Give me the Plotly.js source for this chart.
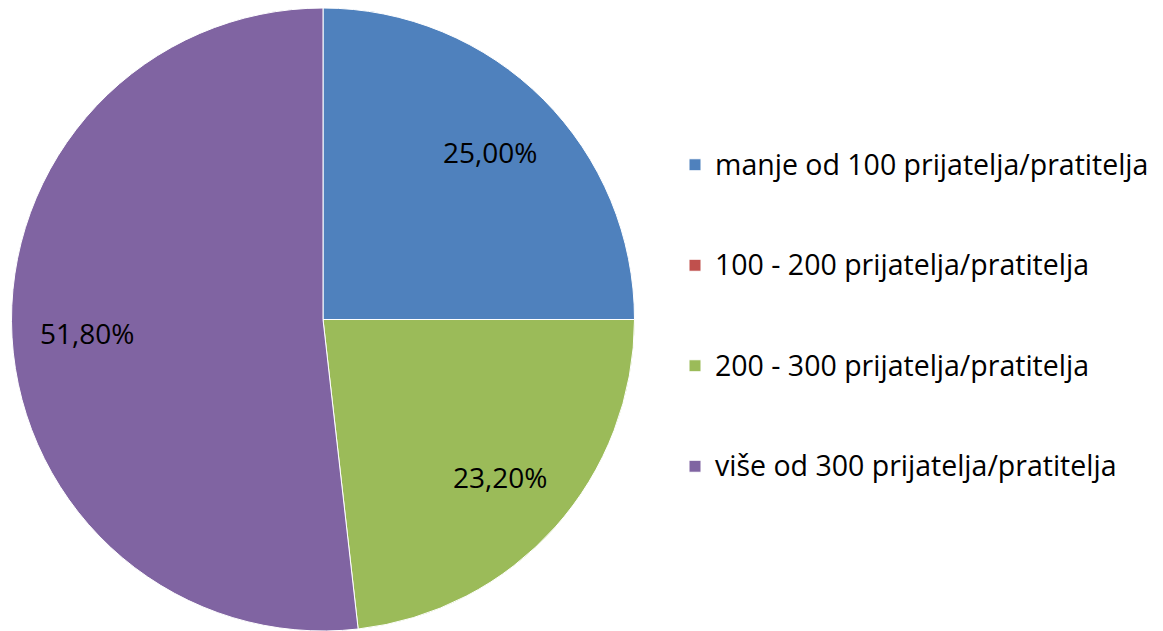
<!DOCTYPE html>
<html>
<head>
<meta charset="utf-8">
<script src="https://cdn.plot.ly/plotly-3.0.1.min.js"></script>
<style>html,body{margin:0;padding:0;background:#fff}#chart{width:1163px;height:631px}</style>
</head>
<body>
<div id="chart"></div>
<script>
const categories = [
  "manje od 100 prijatelja/pratitelja",
  "100 - 200 prijatelja/pratitelja",
  "200 - 300 prijatelja/pratitelja",
  "više od 300 prijatelja/pratitelja"
];
const values = [25.00, 0.00, 23.20, 51.80];
const colors = ["#4F81BD", "#C0504D", "#9BBB59", "#8064A2"];

const W = 1163, H = 631;
const dom = {x: [11/W, 635/W], y: [0, 1 - 8/H]};

const legendLabels = categories.map(c => ' <br><span style="font-size:28.5px">' + c + '</span><br> ');
const fmt = v => v.toFixed(2).replace(".", ",") + "%";

const trace = {
  type: "pie",
  labels: legendLabels,
  values: values,
  textinfo: "none",
  sort: false,
  direction: "clockwise",
  rotation: 0,
  marker: {colors: colors, line: {color: "#ffffff", width: 1}},
  domain: dom,
  hoverinfo: "percent"
};

// value labels placed along each slice's mid-angle (derived from the values)
const total = values.reduce((a, b) => a + b, 0);
const cx = (dom.x[0] + dom.x[1]) / 2 * W;
const cyTop = H - (dom.y[0] + dom.y[1]) / 2 * H;
const R = Math.min((dom.x[1] - dom.x[0]) * W, (dom.y[1] - dom.y[0]) * H) / 2;
const annotations = [];
let cum = 0;
values.forEach((v, i) => {
  const mid = (cum + v / 2) / total * 2 * Math.PI;
  cum += v;
  if (v <= 0) return;
  const r = 0.76 * R;
  const px = cx + r * Math.sin(mid);
  const py = cyTop - r * Math.cos(mid);
  annotations.push({
    xref: "paper", yref: "paper",
    x: px / W, y: 1 - py / H,
    xanchor: "center", yanchor: "middle",
    text: fmt(v), showarrow: false,
    font: {family: "Open Sans, sans-serif", size: 28, color: "#000000"}
  });
});

const layout = {
  width: W,
  height: H,
  margin: {l: 0, r: 0, t: 0, b: 0},
  paper_bgcolor: "#ffffff",
  showlegend: true,
  annotations: annotations,
  legend: {
    x: 0.5804, y: 0.5, xanchor: "left", yanchor: "middle",
    font: {family: "Open Sans, sans-serif", size: 25, color: "#000000"},
    itemwidth: 30
  }
};

Plotly.newPlot("chart", [trace], layout, {displayModeBar: false, staticPlot: true});
</script>
</body>
</html>
